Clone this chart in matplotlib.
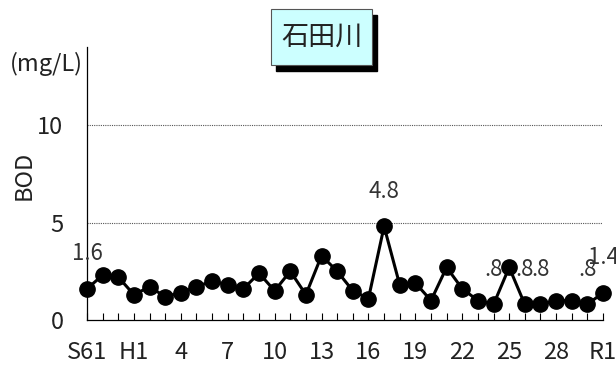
import matplotlib
matplotlib.use("Agg")
import matplotlib.pyplot as plt
from matplotlib.patches import Rectangle

plt.rcParams["font.family"] = ["Noto Sans CJK JP", "DejaVu Sans"]

# BOD annual values, S61 .. R1
years = list(range(34))
bod = [1.6, 2.3, 2.2, 1.3, 1.7, 1.2, 1.4, 1.7, 2.0, 1.8,
       1.6, 2.4, 1.5, 2.5, 1.3, 3.3, 2.5, 1.5, 1.1, 4.8,
       1.8, 1.9, 1.0, 2.7, 1.6, 1.0, 0.8, 2.7, 0.8, 0.8,
       1.0, 1.0, 0.8, 1.4]
labelled = [0, 19, 26, 28, 29, 32, 33]
tick_pos = [0, 3, 6, 9, 12, 15, 18, 21, 24, 27, 30, 33]
tick_text = ["S61", "H1", "4", "7", "10", "13", "16", "19", "22", "25", "28", "R1"]
title = "石田川"


def fmt(v):
    # Excel style "#.0": no leading zero
    s = f"{v:.1f}"
    return s[1:] if s.startswith("0") else s


fig = plt.figure(figsize=(6.16, 3.67), dpi=100)
ax = fig.add_axes([87 / 616, 1 - 320 / 367, 516 / 616, 273 / 367])

ax.plot(years, bod, color="black", lw=2.2, marker="o", ms=11, clip_on=False, zorder=3)
for i in labelled:
    ax.annotate(fmt(bod[i]), (years[i], bod[i]), xytext=(0, 20.5), textcoords="offset points",
                ha="center", va="baseline", fontsize=16, color="#333333", zorder=4)

ax.set_xlim(0, 33)
ax.set_ylim(0, 14)
ax.set_yticks([0, 5, 10])
for y in [5, 10]:
    ax.axhline(y, color="#555555", lw=0.8, ls=(0, (1, 1)), zorder=1)

ax.set_xticks(years, minor=True)
ax.set_xticks(tick_pos)
ax.set_xticklabels(tick_text)
ax.tick_params(axis="x", which="both", direction="in", length=5, width=0.8,
               labelsize=17, pad=15, colors="black", labelcolor="#222222")
ax.tick_params(axis="y", length=0, labelsize=17, pad=17, labelcolor="#222222")
for s in ["top", "right"]:
    ax.spines[s].set_visible(False)
ax.spines["left"].set_linewidth(0.9)
ax.spines["bottom"].set_linewidth(0.9)

fig.text(24 / 616, 1 - 175 / 367, "BOD", rotation=90, ha="center", va="center",
         fontsize=17, color="#222222")
fig.text(83 / 616, 1 - 64 / 367, "(mg/L)", ha="right", va="center", fontsize=17, color="#222222")

# title box with shadow
bx, by, bw, bh = 271 / 616, 1 - 65 / 367, 101 / 616, 56 / 367
fig.patches.append(Rectangle((bx + 5 / 616, by - 6 / 367), bw, bh, transform=fig.transFigure,
                             facecolor="black", edgecolor="black", zorder=1))
fig.patches.append(Rectangle((bx, by), bw, bh, transform=fig.transFigure,
                             facecolor="#ccffff", edgecolor="#555555", lw=0.8, zorder=2))
fig.text(bx + bw / 2, by + bh / 2, title, ha="center", va="center", fontsize=19.5,
         color="#222222", zorder=3)

fig.savefig("out.png", dpi=100)
